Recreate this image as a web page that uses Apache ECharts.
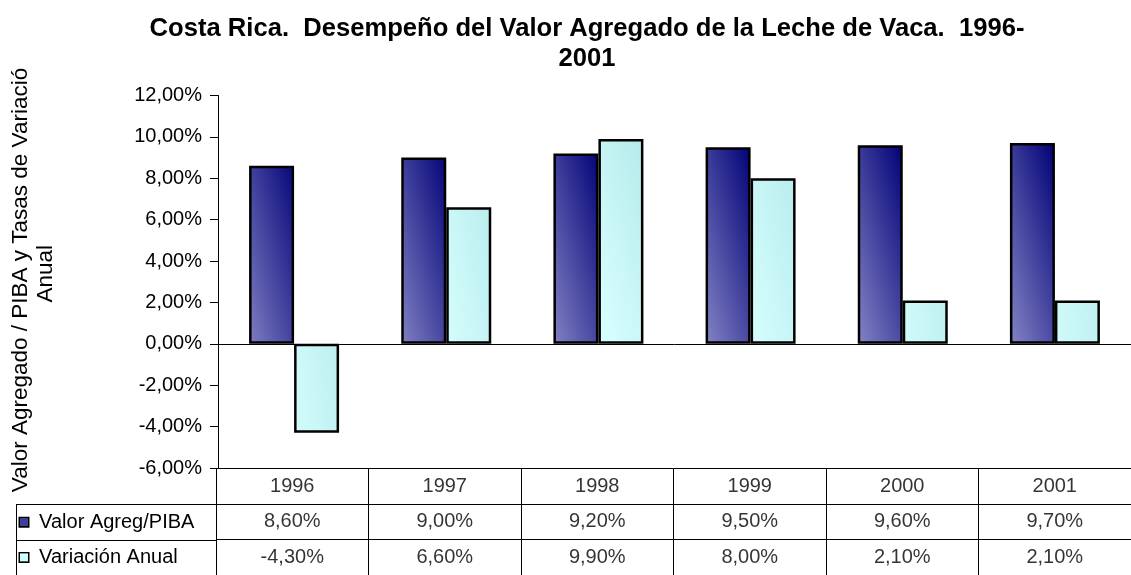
<!DOCTYPE html>
<html>
<head>
<meta charset="utf-8">
<script src="https://cdn.jsdelivr.net/npm/echarts@6/dist/echarts.min.js"></script>
<style>
  html, body { margin: 0; padding: 0; background: #fff; }
  #chart { width: 1131px; height: 575px; }
</style>
</head>
<body>
<div id="chart"></div>
<script>
// datos del gráfico (porcentajes)
const years = ['1996', '1997', '1998', '1999', '2000', '2001'];
const valorAgreg = [8.6, 9.0, 9.2, 9.5, 9.6, 9.7];
const variacion = [-4.3, 6.6, 9.9, 8.0, 2.1, 2.1];
const seriesNames = ['Valor Agreg/PIBA', 'Variación Anual'];
const tableRows = ['Año', 'Valor Agreg/PIBA', 'Variación Anual'];

const font = '"Liberation Sans", Arial, sans-serif';
const fmt = v => v.toFixed(2).replace('.', ',') + '%';

const chart = echarts.init(document.getElementById('chart'));

// degradado diagonal "tipo Excel" (relativo a la barra)
const darkFill = new echarts.graphic.LinearGradient(-0.44, 0.56, 1.44, 0.44, [
  { offset: 0, color: '#7e7ec2' },
  { offset: 1, color: '#07077a' }
]);
const cyanFill = new echarts.graphic.LinearGradient(-0.44, 0.56, 1.44, 0.44, [
  { offset: 0, color: '#d8ffff' },
  { offset: 1, color: '#b8ecec' }
]);

// celdas de la tabla de datos
const cells = [];
years.forEach((y, i) => {
  cells.push({ value: [y, tableRows[0]], name: y });
  cells.push({ value: [y, tableRows[1]], name: fmt(valorAgreg[i]) });
  cells.push({ value: [y, tableRows[2]], name: fmt(variacion[i]) });
});

const lineCol = '#000';
const txt = { color: '#000', fontFamily: font, fontSize: 20 };

const option = {
  backgroundColor: '#fff',
  animation: false,
  title: {
    text: 'Costa Rica.  Desempeño del Valor Agregado de la Leche de Vaca.  1996-\n2001',
    left: 582,
    top: 9,
    textAlign: 'center',
    textStyle: { fontFamily: font, fontSize: 25.6, fontWeight: 'bold', color: '#000', lineHeight: 30 }
  },
  grid: [
    { left: 216, top: 95.5, width: 920, height: 372.5 },
    { left: 216, top: 468.5, width: 920, height: 107 },
    { left: 16, top: 504.5, width: 200, height: 71.5 }
  ],
  xAxis: [
    {
      type: 'category', gridIndex: 0, data: years,
      axisLine: { lineStyle: { color: lineCol, width: 1 } },
      axisTick: { show: false }, axisLabel: { show: false }
    },
    {
      type: 'category', gridIndex: 1, data: years,
      axisLine: { show: false }, axisTick: { show: false }, axisLabel: { show: false },
      splitLine: { show: true, lineStyle: { color: lineCol, width: 1 } }
    },
    { type: 'value', gridIndex: 2, show: false }
  ],
  yAxis: [
    {
      type: 'value', gridIndex: 0, min: -6, max: 12, interval: 2,
      name: 'Valor Agregado / PIBA y Tasas de Variación\nAnual',
      nameLocation: 'middle', nameRotate: 90, nameGap: 160,
      nameTextStyle: { color: '#000', fontFamily: font, fontSize: 22.5, lineHeight: 25, padding: [0, 0, 0, 16] },
      axisLine: { show: true, lineStyle: { color: lineCol, width: 1 } },
      axisTick: { show: true, length: 8, lineStyle: { color: lineCol } },
      axisLabel: { ...txt, margin: 16, formatter: v => fmt(v) },
      splitLine: { show: false }
    },
    {
      type: 'category', gridIndex: 1, data: tableRows, inverse: true,
      axisLine: { show: false }, axisTick: { show: false }, axisLabel: { show: false },
      splitLine: { show: true, lineStyle: { color: lineCol, width: 1 } }
    },
    {
      type: 'category', gridIndex: 2, data: seriesNames, inverse: true,
      axisLine: { show: true, lineStyle: { color: lineCol, width: 1 } },
      axisTick: { show: false },
      splitLine: { show: true, lineStyle: { color: lineCol, width: 1 } },
      axisLabel: {
        ...txt, inside: true, margin: 4,
        formatter: (v, i) => `{k${i}|}  ${v}`,
        rich: {
          k0: { width: 8, height: 8, backgroundColor: '#3d3d9a', borderColor: '#000', borderWidth: 1.5 },
          k1: { width: 8, height: 8, backgroundColor: '#ccffff', borderColor: '#000', borderWidth: 1.5 }
        }
      }
    }
  ],
  series: [
    {
      name: seriesNames[0], type: 'bar', xAxisIndex: 0, yAxisIndex: 0,
      data: valorAgreg, barWidth: 45, barGap: '0%',
      itemStyle: { color: darkFill, borderColor: '#000', borderWidth: 2.5 }
    },
    {
      name: seriesNames[1], type: 'bar', xAxisIndex: 0, yAxisIndex: 0,
      data: variacion, barWidth: 45, barGap: '0%',
      itemStyle: { color: cyanFill, borderColor: '#000', borderWidth: 2.5 }
    },
    {
      type: 'scatter', xAxisIndex: 1, yAxisIndex: 1, silent: true,
      symbol: 'rect', symbolSize: 1,
      itemStyle: { color: 'rgba(0,0,0,0)' },
      label: { show: true, position: 'inside', formatter: '{b}', ...txt },
      data: cells
    }
  ],
  graphic: {
    elements: [
      // recorte del título del eje, como en el original
      { type: 'rect', left: 0, top: 0, z: 100, zlevel: 1, shape: { width: 70, height: 68 }, style: { fill: '#fff' } }
    ]
  }
};

chart.setOption(option);
</script>
</body>
</html>
